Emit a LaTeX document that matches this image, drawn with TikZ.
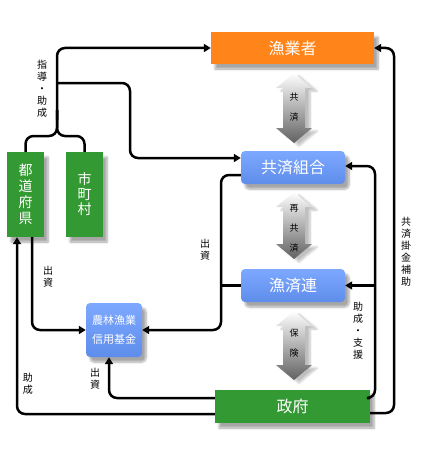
\documentclass[tikz,border=0pt]{standalone}
\usepackage{fontspec}
\setmainfont{Noto Sans CJK JP}
\usetikzlibrary{arrows.meta,shadows.blur}

\definecolor{fisherorange}{RGB}{255,133,26}
\definecolor{govgreen}{RGB}{51,153,51}
\definecolor{unionblue}{RGB}{102,153,255}

\tikzset{
  box/.style={text=white, inner sep=0pt, align=center,
    blur shadow={shadow xshift=4pt, shadow yshift=-5pt, shadow blur steps=6, shadow opacity=35}},
  orangebox/.style={box, fill=fisherorange, font=\fontsize{16}{16}\selectfont},
  bluebox/.style={box, top color=unionblue!85!white, bottom color=unionblue!92!black,
    rounded corners=4pt, font=\fontsize{16}{16}\selectfont},
  greenbox/.style={box, fill=govgreen, font=\fontsize{16}{16}\selectfont},
  conn/.style={line width=2.5pt, rounded corners=8pt},
  arr/.style={conn, -{Triangle[length=7pt,width=8pt]}},
  vlabel/.style={font=\fontsize{10}{12}\selectfont, align=center, inner sep=0pt},
  arrlabel/.style={font=\fontsize{9}{20}\selectfont, align=center, inner sep=0pt},
}

% gray double arrow: x, top tip, bottom tip
\newcommand{\grayarrow}[3]{%
  \shade[top color=white, bottom color=black!62,
    blur shadow={shadow xshift=5pt, shadow yshift=-3pt, shadow blur steps=6, shadow opacity=25}]
    (#1,#2) -- ({#1+18},{#2+15}) -- ({#1+11},{#2+15}) -- ({#1+11},{#3-15})
    -- ({#1+18},{#3-15}) -- (#1,#3) -- ({#1-18},{#3-15}) -- ({#1-11},{#3-15})
    -- ({#1-11},{#2+15}) -- ({#1-18},{#2+15}) -- cycle;}

\begin{document}
\begin{tikzpicture}[x=1pt,y=-1pt]
  \useasboundingbox (0,0) rectangle (422,452);

  % gray arrows
  \grayarrow{294}{73}{143}
  \grayarrow{294}{192}{259}
  \grayarrow{294}{311}{380}
  \node[arrlabel] (kyosai1) at (294,107) {共\\済};
  \node[arrlabel] (saikyosai) at (294,228) {再\\共\\済};
  \node[arrlabel] (hoken) at (294,343) {保\\険};

  % boxes
  \node[orangebox, minimum width=163pt, minimum height=32pt] (gyogyosha) at (292.5,48) {漁業者};
  \node[bluebox, minimum width=104pt, minimum height=33pt] (kumiai) at (293,167.5) {共済組合};
  \node[bluebox, minimum width=104pt, minimum height=33pt] (gyosairen) at (293,285.5) {漁済連};
  \node[greenbox, minimum width=155pt, minimum height=33pt] (seifu) at (292.5,406.5) {政府};
  \node[greenbox, minimum width=37pt, minimum height=85pt, font=\fontsize{14}{16}\selectfont] (todofuken) at (25.5,194.5) {都\\道\\府\\県};
  \node[greenbox, minimum width=37pt, minimum height=85pt, font=\fontsize{14}{15}\selectfont] (shichoson) at (84.5,194.5) {市\\町\\村};
  \node[bluebox, minimum width=56pt, minimum height=54pt, font=\fontsize{11}{19}\selectfont] (kikin) at (114,330) {農林漁業\\信用基金};

  % connectors
  \draw[conn] (todofuken.north) -- (25.5,136) -- (57,136) -- (57,110);
  \draw[conn] (shichoson.north) -- (84.5,136) -- (57,136) -- (57,110);
  \draw[arr] (57,120) -- (57,48) -- (gyogyosha.west);
  \draw[arr] (57,83) -- (130,83) -- (130,158) -- (kumiai.west |- 0,158);
  \draw[arr] (32,0 |- todofuken.south) -- (32,330) -- (kikin.west);
  \draw[arr] (kumiai.west |- 0,175) -- (221,175) -- (221,330) -- (kikin.east);
  \draw[conn] (gyosairen.west) -- (221,285.5);
  \draw[arr] (seifu.west |- 0,398) -- (109,398) -- (109,0 |- kikin.south);
  \draw[arr] (seifu.west |- 0,414) -- (17,414) -- (17,0 |- todofuken.south);
  \draw[arr] (seifu.east |- 0,398) -- (375,398) -- (375,166) -- (kumiai.east |- 0,166);
  \draw[arr] (375,285.5) -- (gyosairen.east);
  \draw[arr] (seifu.east |- 0,413) -- (394,413) -- (394,48) -- (gyogyosha.east);

  % labels
  \node[vlabel] (shidolbl) at (42,89) {指\\導\\・\\助\\成};
  \node[vlabel] (shusshi1) at (48,277) {出\\資};
  \node[vlabel] (shusshi2) at (205,250) {出\\資};
  \node[vlabel] (shusshi3) at (95,379) {出\\資};
  \node[vlabel] (joseilbl) at (28,384) {助\\成};
  \node[vlabel] (shienlbl) at (358,331) {助\\成\\・\\支\\援};
  \node[vlabel] (hojolbl) at (406,252) {共\\済\\掛\\金\\補\\助};
\end{tikzpicture}
\end{document}
